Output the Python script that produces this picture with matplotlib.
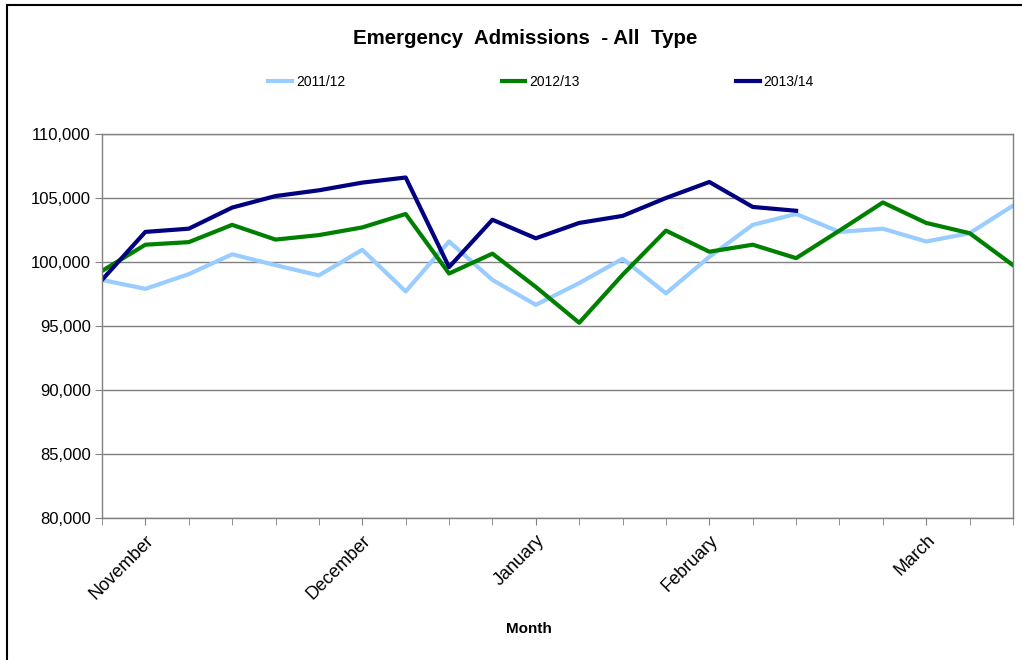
import matplotlib.pyplot as plt
from matplotlib.patches import Rectangle
from matplotlib.ticker import FuncFormatter

plt.rcParams['font.family'] = ['Liberation Sans', 'DejaVu Sans']

# weekly points, labels only on some weeks
weeks = list(range(22))
month_pos = [1, 6, 10, 14, 19]
month_names = ['November', 'December', 'January', 'February', 'March']

y2011 = [98600, 97900, 99050, 100600, 99750, 98950, 100950, 97700, 101600, 98600, 96650,
         98350, 100250, 97550, 100400, 102900, 103750, 102350, 102600, 101600, 102250, 104400]
y2012 = [99300, 101350, 101550, 102900, 101750, 102100, 102700, 103750, 99100, 100650, 98050,
         95250, 99000, 102450, 100800, 101350, 100300, 102450, 104650, 103050, 102250, 99750]
y2013 = [98600, 102350, 102600, 104250, 105150, 105600, 106200, 106600, 99600, 103300, 101850,
         103050, 103600, 105000, 106250, 104300, 104000]

fig = plt.figure(figsize=(10.22, 6.6), dpi=100)
ax = fig.add_axes([0.0998, 0.2152, 0.8914, 0.5818])

ax.plot(weeks, y2011, color='#99CCFF', lw=3, label='2011/12')
ax.plot(weeks, y2012, color='#008000', lw=3, label='2012/13')
ax.plot(weeks[:len(y2013)], y2013, color='#000080', lw=3, label='2013/14')

ax.set_xlim(0, 21)
ax.set_ylim(80000, 110000)
ax.set_yticks(range(80000, 110001, 5000))
ax.yaxis.set_major_formatter(FuncFormatter(lambda v, p: f'{int(v):,}'))
ax.set_xticks(weeks, minor=True)
ax.set_xticks(month_pos)
ax.set_xticklabels(month_names, rotation=45, ha='right', rotation_mode='anchor')
ax.tick_params(axis='x', which='both', length=5, color='#808080', labelsize=13, pad=5)
ax.tick_params(axis='y', length=5, color='#808080', labelsize=12, pad=3)
ax.grid(axis='y', color='#808080', lw=1)
ax.set_axisbelow(True)
for s in ax.spines.values():
    s.set_color('#808080')
    s.set_linewidth(1)

fig.text(529 / 1022, 1 - 629 / 660, 'Month', ha='center', va='center',
         fontsize=11, fontweight='bold')
fig.text(525 / 1022, 1 - 38 / 660, 'Emergency  Admissions  - All  Type', ha='center', va='center',
         fontsize=14.8, fontweight='bold')

ax.legend(loc='center', bbox_to_anchor=(0.482, 1.135), ncol=3, frameon=False, fontsize=10,
          handlelength=1.7, handletextpad=0.3, columnspacing=11.25)

fig.patches.append(Rectangle((7 / 1022, -0.1), 1.2, 1.1 - 5 / 660, transform=fig.transFigure,
                             fill=False, edgecolor='black', lw=1.5))

fig.savefig('out.png', dpi=100)
